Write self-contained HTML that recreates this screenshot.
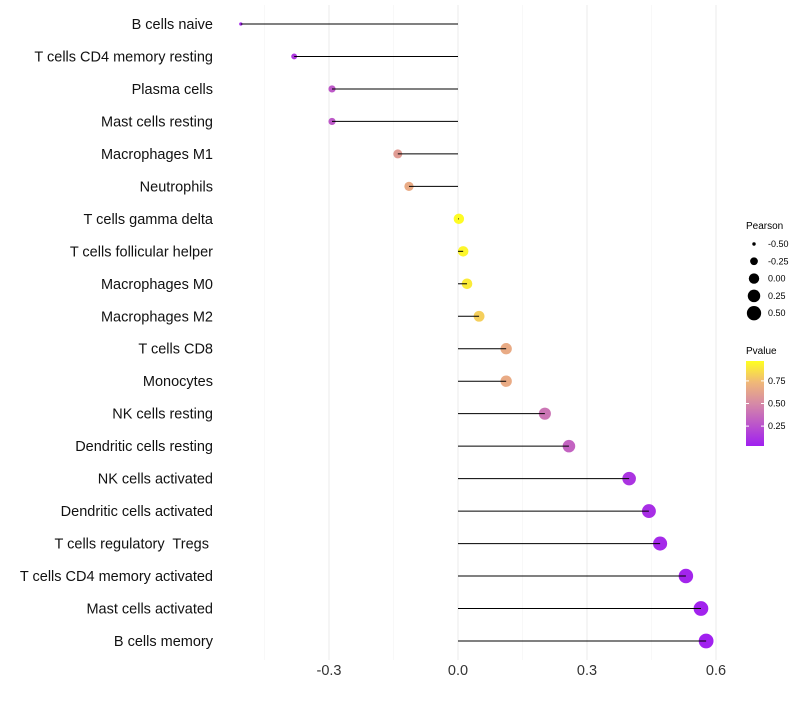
<!DOCTYPE html>
<html><head><meta charset="utf-8"><style>
body{margin:0;background:#fff;font-family:"Liberation Sans",sans-serif}
text{white-space:pre}
</style></head><body>
<svg id="chart" width="800" height="700" xmlns="http://www.w3.org/2000/svg" xml:space="preserve">
<defs><linearGradient id="pg" x1="0" y1="1" x2="0" y2="0">
<stop offset="0" stop-color="#a01ff0"/><stop offset="0.5" stop-color="#d68aa6"/><stop offset="0.75" stop-color="#f0b878"/><stop offset="1" stop-color="#ffff20"/></linearGradient></defs>
<g id="grid"></g><g id="dots"></g><g id="marks"></g><g id="labels"></g>
<g font-size="9" fill="#000">
<text x="746" y="229" font-size="10">Pearson</text>
<g id="sizeleg"></g></g>
<g font-size="9">
<text x="746" y="354" font-size="10">Pvalue</text>
<rect x="746" y="361" width="18" height="85" fill="url(#pg)"/>
<g id="colleg"></g></g>
</svg>
<script>
const categories=["B cells naive","T cells CD4 memory resting","Plasma cells","Mast cells resting","Macrophages M1","Neutrophils","T cells gamma delta","T cells follicular helper","Macrophages M0","Macrophages M2","T cells CD8","Monocytes","NK cells resting","Dendritic cells resting","NK cells activated","Dendritic cells activated","T cells regulatory  Tregs ","T cells CD4 memory activated","Mast cells activated","B cells memory"];
const pearson=[-0.505,-0.381,-0.293,-0.293,-0.14,-0.114,0.002,0.012,0.021,0.049,0.112,0.112,0.202,0.258,0.398,0.444,0.47,0.53,0.565,0.577];
const pvalues=[0.03,0.12,0.27,0.27,0.6,0.68,0.99,0.97,0.93,0.83,0.68,0.68,0.4,0.32,0.1,0.07,0.05,0.03,0.02,0.01];
const xTicks=[-0.3,0,0.3,0.6];
const xTickLabels=["-0.3","0.0","0.3","0.6"];
const sizeLegendVals=[-0.5,-0.25,0,0.25,0.5];
const sizeLegendLabels=["-0.50","-0.25","0.00","0.25","0.50"];
const colLegendVals=[0.75,0.5,0.25];
const colLegendLabels=["0.75","0.50","0.25"];
const NS="http://www.w3.org/2000/svg";
const x=v=>458+v*430;
const y=i=>24+i*(617/19);
const r=v=>Math.sqrt(Math.max(1.5,27+48*v));
const stops=[[0,[160,31,240]],[0.5,[214,138,166]],[0.75,[240,184,120]],[1,[255,255,32]]];
function col(p){for(let i=1;i<stops.length;i++){if(p<=stops[i][0]){const a=stops[i-1],b=stops[i],t=(p-a[0])/(b[0]-a[0]);return`rgb(${a[1].map((c,k)=>Math.round(c+(b[1][k]-c)*t)).join(',')})`;}}return'rgb(255,255,32)';}
function mk(tag,at,parent,txt){const e=document.createElementNS(NS,tag);for(const k in at)e.setAttribute(k,at[k]);if(txt!==undefined)e.textContent=txt;document.getElementById(parent).appendChild(e);return e;}
[-0.45,-0.15,0.15,0.45].forEach(v=>{const l=mk('line',{x1:x(v),x2:x(v),y1:5,y2:660,stroke:'#f3f3f3','stroke-width':0.6},'grid');

});
xTicks.forEach((v,i)=>{const l=mk('line',{x1:x(v),x2:x(v),y1:5,y2:660,stroke:'#ebebeb','stroke-width':1},'grid');


const t=mk('text',{x:x(v),y:675,'text-anchor':'middle','font-size':14.5,fill:'#333'},'labels',xTickLabels[i]);

});
categories.forEach((c,i)=>{const t=mk('text',{x:213,y:y(i)+5,'text-anchor':'end','font-size':14.5,fill:'#111'},'labels',c);


const l=mk('line',{x1:x(0),x2:x(pearson[i]),y1:y(i),y2:y(i),stroke:'#000','stroke-width':1},'marks');


const d=mk('circle',{cx:x(pearson[i]),cy:y(i),r:r(pearson[i]),fill:col(pvalues[i])},'dots');

});
sizeLegendVals.forEach((v,i)=>{const yy=244+i*17.3;
const d=mk('circle',{cx:754,cy:yy,r:r(v),fill:'#000'},'sizeleg');


const t=mk('text',{x:768,y:yy+3},'sizeleg',sizeLegendLabels[i]);

});
colLegendVals.forEach((v,i)=>{const yy=446-(v-0.03)/0.94*85;
const t=mk('text',{x:768,y:yy+3},'colleg',colLegendLabels[i]);


mk('line',{x1:746,x2:749,y1:yy,y2:yy,stroke:'#fff'},'colleg');
mk('line',{x1:761,x2:764,y1:yy,y2:yy,stroke:'#fff'},'colleg');});
</script>
</body></html>
